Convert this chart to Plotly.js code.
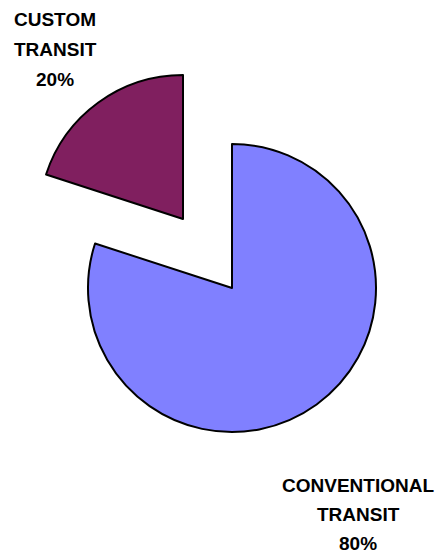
<!DOCTYPE html>
<html>
<head>
<meta charset="utf-8">
<script src="https://cdn.plot.ly/plotly-3.0.1.min.js"></script>
<style>html,body{margin:0;padding:0;background:#fff;}#chart{width:439px;height:554px;}</style>
</head>
<body>
<div id="chart"></div>
<script>
var categories = ['CUSTOM TRANSIT', 'CONVENTIONAL TRANSIT'];
var values = [20, 80];
var sliceColors = ['#801F5F', '#8080FF'];

var W = 439, H = 554;
function px(x){ return x / W; }
function py(y){ return 1 - y / H; }

var total = values.reduce(function(a,b){return a+b;}, 0);
var R = 144;
// first slice ends at 12 o'clock (sweeping clockwise into it)
var startRot = -values[0] / total * 360;

function pieTrace(showIdx, cx, cy) {
  return {
    type: 'pie',
    labels: categories,
    values: values,
    sort: false,
    direction: 'clockwise',
    rotation: startRot,
    textinfo: 'none',
    hoverinfo: 'label+percent',
    showlegend: false,
    marker: {
      colors: categories.map(function(c, i){ return i === showIdx ? sliceColors[i] : 'rgba(0,0,0,0)'; }),
      line: { color: '#000000', width: categories.map(function(c, i){ return i === showIdx ? 2 : 0; }) }
    },
    domain: { x: [px(cx - R), px(cx + R)], y: [py(cy + R), py(cy - R)] }
  };
}

var data = [pieTrace(1, 232, 288), pieTrace(0, 183, 219)];

var labelPos = [
  { x: 55, y: [19, 49, 79] },
  { x: 358, y: [485, 514, 543] }
];
var annotations = [];
categories.forEach(function(c, i){
  var lines = c.split(' ').concat([Math.round(values[i] / total * 100) + '%']);
  lines.forEach(function(t, j){
    annotations.push({
      text: '<b>' + t + '</b>',
      xref: 'paper', yref: 'paper',
      x: px(labelPos[i].x), y: py(labelPos[i].y[j]),
      xanchor: 'center', yanchor: 'middle',
      showarrow: false,
      font: { family: 'Liberation Sans, Arial, sans-serif', size: 19, color: '#000000' }
    });
  });
});

var layout = {
  width: W, height: H,
  margin: { l: 0, r: 0, t: 0, b: 0 },
  paper_bgcolor: '#ffffff',
  plot_bgcolor: '#ffffff',
  showlegend: false,
  annotations: annotations
};

Plotly.newPlot('chart', data, layout, { displayModeBar: false, staticPlot: true });
</script>
</body>
</html>
